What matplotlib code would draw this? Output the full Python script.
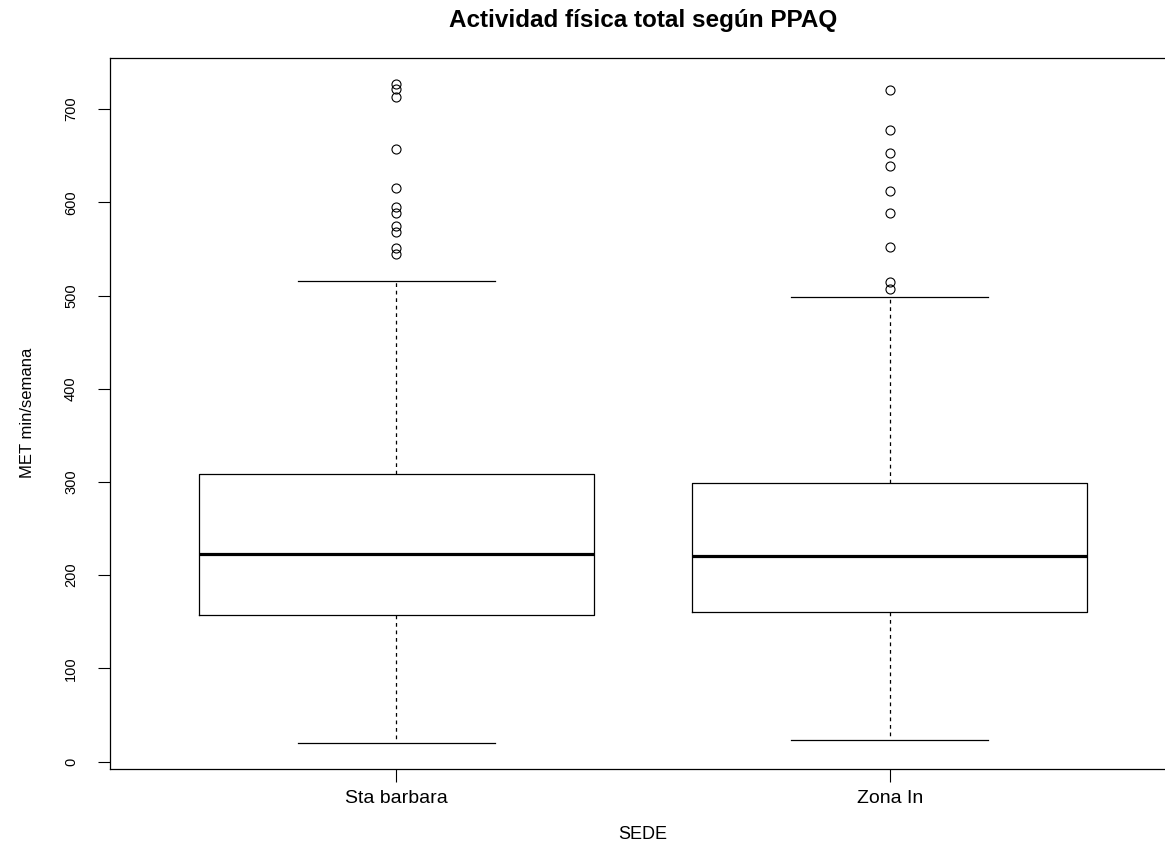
import matplotlib
matplotlib.use("Agg")
import matplotlib.pyplot as plt

plt.rcParams['font.family'] = ['Liberation Sans', 'DejaVu Sans']

# Data (MET min/semana)
sedes = ["Sta barbara", "Zona In"]
whisker_low = [20.4, 23.6]
q1 = [157.6, 160.8]
median = [223.0, 220.8]
q3 = [308.7, 299.0]
whisker_high = [515.6, 498.4]
outliers_sta = [727, 722, 713, 657, 615, 595, 589, 575, 568, 551, 544]
outliers_zona = [720, 677, 653, 639, 612, 589, 552, 515, 507]
outliers = [outliers_sta, outliers_zona]

stats = []
for i, name in enumerate(sedes):
    stats.append({
        "label": name,
        "whislo": whisker_low[i],
        "q1": q1[i],
        "med": median[i],
        "q3": q3[i],
        "whishi": whisker_high[i],
        "fliers": outliers[i],
    })

fig = plt.figure(figsize=(11.65, 8.46), dpi=100)
ax = fig.add_axes([110 / 1165, 1 - 769 / 846, (1176 - 110) / 1165, (769 - 57.5) / 846])

line = dict(color="black", linewidth=0.9)
ax.bxp(stats, positions=[1, 2], widths=0.8,
       boxprops=line,
       whiskerprops=dict(color="black", linewidth=0.9, linestyle=(0, (3, 3))),
       capprops=line,
       medianprops=dict(color="black", linewidth=2.3),
       flierprops=dict(marker="o", markerfacecolor="none", markeredgecolor="black",
                       markersize=6.5, markeredgewidth=0.8))

ax.set_xlim(0.42, 2.58)
ax.set_ylim(-7.9, 755.3)
ax.set_yticks(range(0, 701, 100))
ax.tick_params(axis="both", direction="out", length=9, width=0.8)
ax.tick_params(axis="x", labelsize=14, pad=6)
ax.tick_params(axis="y", labelsize=10.5, pad=14)
for lbl in ax.get_yticklabels():
    lbl.set_rotation(90)
    lbl.set_va("center")

for s in ax.spines.values():
    s.set_linewidth(0.9)

ax.set_title("Actividad física total según PPAQ", fontsize=17.5, fontweight="bold", pad=22)
ax.set_xlabel("SEDE", fontsize=13, labelpad=14)
ax.set_ylabel("MET min/semana", fontsize=12, labelpad=21)

fig.savefig("out.png", dpi=100)
